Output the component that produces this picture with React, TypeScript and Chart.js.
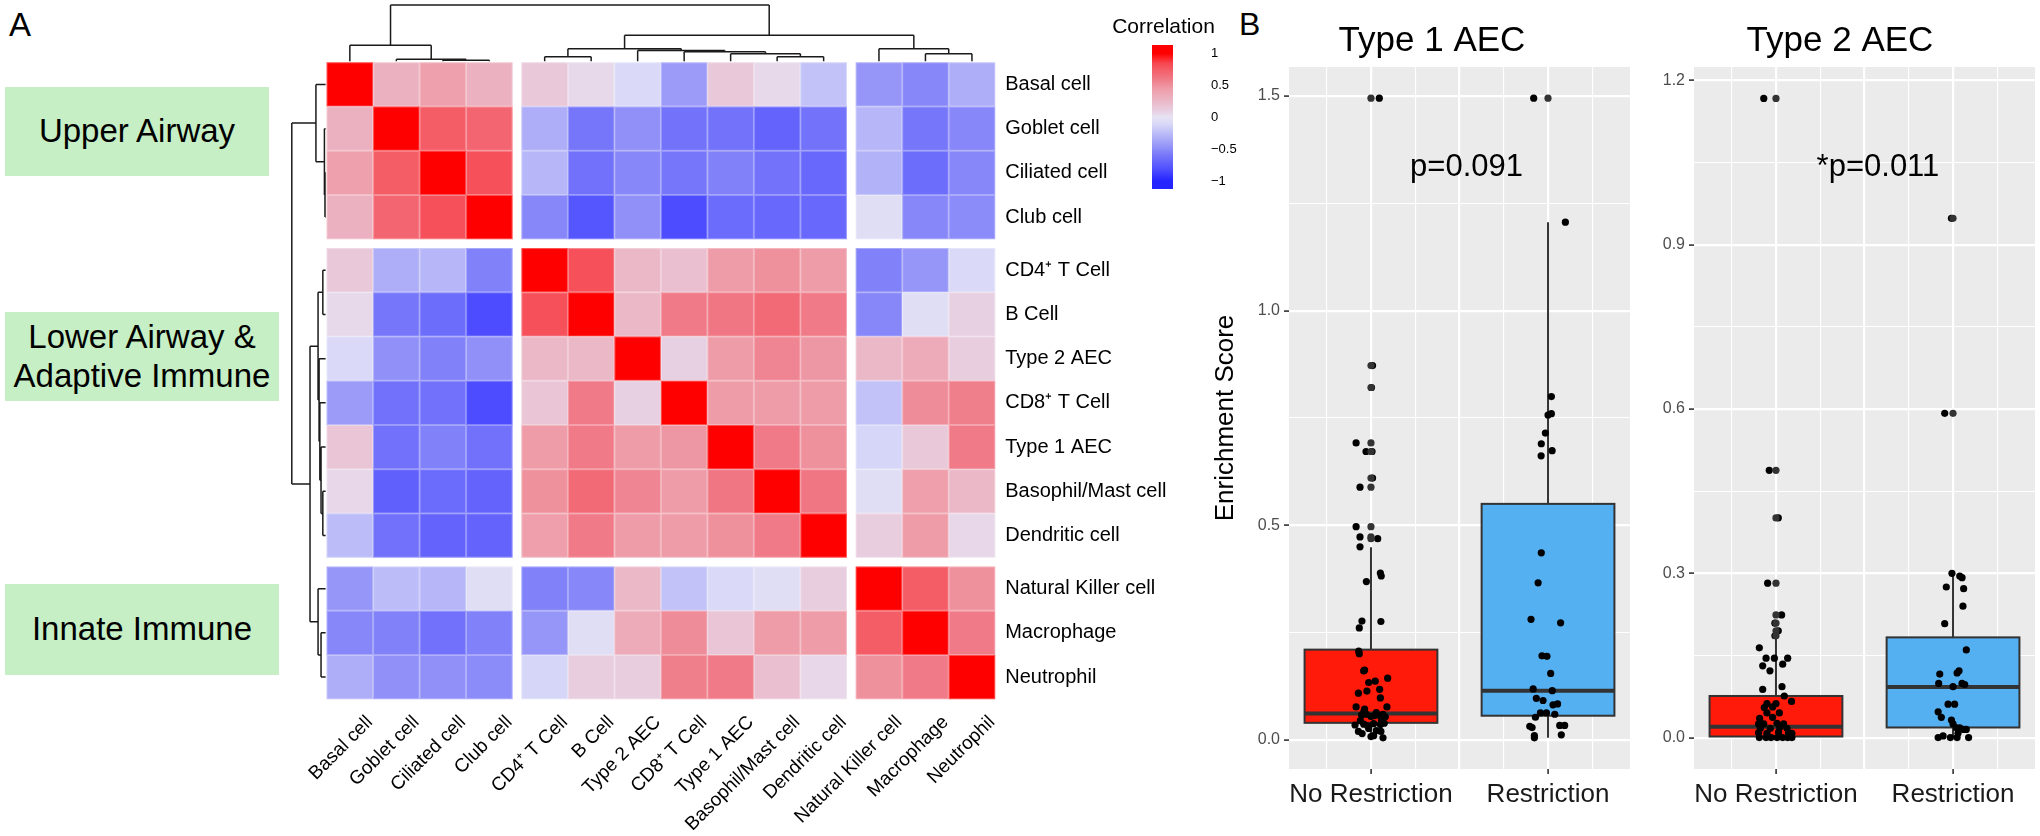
import React, { useEffect, useRef } from "react";
import { Chart, registerables } from "chart.js";

Chart.register(...registerables);

const FONT = '"Liberation Sans", Arial, Helvetica, sans-serif';
Chart.defaults.font.family = FONT;

// ---------------- Panel A data ----------------
const CELL_TYPES = [
  "Basal cell", "Goblet cell", "Ciliated cell", "Club cell",
  "CD4\u207A T Cell", "B Cell", "Type 2 AEC", "CD8\u207A T Cell", "Type 1 AEC",
  "Basophil/Mast cell", "Dendritic cell",
  "Natural Killer cell", "Macrophage", "Neutrophil",
];
const CELL_BLOCK = [0, 0, 0, 0, 1, 1, 1, 1, 1, 1, 1, 2, 2, 2];

const CORRELATION = [
  [1, 0.3, 0.42, 0.3, 0.15, 0.05, -0.1, -0.42, 0.15, 0.05, -0.22, -0.45, -0.52, -0.32],
  [0.3, 1, 0.75, 0.7, -0.32, -0.6, -0.48, -0.62, -0.62, -0.7, -0.62, -0.28, -0.6, -0.52],
  [0.42, 0.75, 1, 0.8, -0.28, -0.63, -0.52, -0.6, -0.55, -0.62, -0.68, -0.3, -0.65, -0.52],
  [0.3, 0.7, 0.8, 1, -0.52, -0.78, -0.48, -0.82, -0.66, -0.68, -0.68, -0.05, -0.52, -0.5],
  [0.15, -0.32, -0.28, -0.55, 1, 0.8, 0.25, 0.2, 0.45, 0.5, 0.45, -0.55, -0.45, -0.1],
  [0.05, -0.6, -0.65, -0.82, 0.8, 1, 0.25, 0.6, 0.62, 0.68, 0.6, -0.52, -0.05, 0.1],
  [-0.1, -0.48, -0.55, -0.48, 0.25, 0.25, 1, 0.1, 0.45, 0.55, 0.47, 0.25, 0.35, 0.12],
  [-0.42, -0.63, -0.63, -0.82, 0.17, 0.6, 0.1, 1, 0.45, 0.45, 0.45, -0.22, 0.52, 0.58],
  [0.17, -0.63, -0.55, -0.63, 0.45, 0.6, 0.45, 0.47, 1, 0.6, 0.5, -0.12, 0.15, 0.6],
  [0.06, -0.72, -0.66, -0.7, 0.5, 0.68, 0.55, 0.45, 0.62, 1, 0.62, -0.05, 0.43, 0.25],
  [-0.25, -0.63, -0.7, -0.7, 0.43, 0.6, 0.45, 0.45, 0.5, 0.6, 1, 0.12, 0.45, 0.06],
  [-0.45, -0.25, -0.28, -0.05, -0.55, -0.52, 0.25, -0.22, -0.1, -0.05, 0.12, 1, 0.75, 0.5],
  [-0.52, -0.55, -0.63, -0.55, -0.45, -0.05, 0.35, 0.52, 0.17, 0.45, 0.45, 0.75, 1, 0.6],
  [-0.32, -0.48, -0.48, -0.5, -0.12, 0.12, 0.12, 0.58, 0.6, 0.2, 0.06, 0.5, 0.6, 1],
];

// hclust-style merges: negative = leaf (1-based), positive = earlier merge; third = relative height
const TREE_MERGES: [number, number, number][] = [
  [-3, -4, 0.018],
  [-2, 1, 0.035],
  [-1, 2, 0.286],
  [-5, -6, 0.082],
  [-10, -11, 0.082],
  [-9, 5, 0.135],
  [-8, 6, 0.17],
  [-7, 7, 0.193],
  [4, 8, 0.223],
  [-13, -14, 0.135],
  [-12, 10, 0.223],
  [9, 11, 0.461],
  [3, 12, 1.0],
];

const LEGEND_TICKS = [1, 0.5, 0, -0.5, -1];
const GROUP_LABELS = [["Upper Airway"], ["Lower Airway &", "Adaptive Immune"], ["Innate Immune"]];

const COLOR_STOPS: [number, number[]][] = [
  [-1, [36, 36, 255]],
  [-0.8, [82, 82, 255]],
  [-0.6, [118, 118, 250]],
  [-0.45, [150, 150, 248]],
  [-0.3, [178, 178, 248]],
  [-0.1, [218, 218, 248]],
  [0, [230, 226, 242]],
  [0.1, [231, 208, 226]],
  [0.25, [235, 184, 200]],
  [0.45, [238, 156, 168]],
  [0.6, [240, 122, 136]],
  [0.75, [244, 92, 102]],
  [0.85, [247, 70, 80]],
  [1, [255, 0, 0]],
];

// ---------------- Panel B data ----------------
const GROUPS = ["No Restriction", "Restriction"];
const BOX_FILLS = ["#ff1a0a", "#55b0f2"];
const X_MAJOR = [1, 1.5, 2];
const X_MINOR = [0.75, 1.25, 1.75, 2.25];
const X_RANGE = [0.537, 2.463];

const T1_Y_MAJOR = [0, 0.5, 1.0, 1.5];
const T1_Y_MINOR = [0.25, 0.75, 1.25];
const T1_Y_RANGE = [-0.0675, 1.5675];
// [lower whisker, q1, median, q3, upper whisker]
const T1_BOX_STATS = [
  [0.004, 0.04, 0.0615, 0.2105, 0.449],
  [0.005, 0.0566, 0.115, 0.55, 1.206],
];
const T1_OUTLIERS = [
  [1.495, 0.872, 0.821, 0.692, 0.672, 0.61, 0.589, 0.497, 0.473, 0.469],
  [1.495],
];
// [jitter offset, value]
const T1_NO_RESTRICTION: [number, number][] = [
  [0.047, 1.495], [0.009, 0.872], [0.003, 0.821], [-0.084, 0.692], [-0.028, 0.672], [0.006, 0.672],
  [0.009, 0.61], [-0.062, 0.589], [-0.084, 0.497], [-0.062, 0.473], [0.038, 0.469],
  [-0.062, 0.45], [-0.026, 0.369], [0.053, 0.389], [0.058, 0.382], [-0.051, 0.277], [-0.066, 0.261],
  [0.056, 0.276], [-0.069, 0.207], [-0.066, 0.201], [-0.041, 0.161], [-0.036, 0.163], [-0.013, 0.134],
  [0.024, 0.137], [0.094, 0.144], [-0.071, 0.109], [-0.023, 0.114], [0.049, 0.118], [0.053, 0.098],
  [-0.084, 0.077], [-0.036, 0.072], [0.09, 0.077],
  [-0.053, 0.058], [-0.026, 0.06], [0, 0.055], [0.019, 0.057], [0.043, 0.058], [0.068, 0.06],
  [0.081, 0.054], [-0.04, 0.066], [0.03, 0.064],
  [-0.09, 0.035], [-0.041, 0.037], [-0.019, 0.033], [0.015, 0.038], [0.053, 0.036], [0.075, 0.039],
  [-0.06, 0.045], [0.06, 0.046],
  [-0.071, 0.02], [-0.013, 0.027], [0.015, 0.01], [0.068, 0.005], [0.056, 0.02], [0.0, 0.008],
  [-0.05, 0.015], [0.03, 0.022],
];
const T1_RESTRICTION: [number, number][] = [
  [-0.081, 1.495], [0.098, 1.206], [0.019, 0.8], [0.0, 0.757], [0.019, 0.76], [-0.015, 0.715],
  [-0.038, 0.69], [0.023, 0.674], [-0.039, 0.662], [-0.038, 0.436], [-0.056, 0.366], [-0.096, 0.281],
  [0.071, 0.273], [-0.034, 0.196], [-0.006, 0.195], [0.015, 0.155], [-0.084, 0.119], [0.024, 0.115],
  [-0.066, 0.097], [-0.028, 0.092], [0.028, 0.082], [0.054, 0.084], [-0.043, 0.063], [-0.009, 0.063],
  [0.038, 0.06], [-0.071, 0.053], [-0.103, 0.032], [-0.09, 0.029], [0.066, 0.034], [0.094, 0.034],
  [-0.077, 0.01], [-0.077, 0.005], [0.075, 0.012],
];

const T2_Y_MAJOR = [0, 0.3, 0.6, 0.9, 1.2];
const T2_Y_MINOR = [0.15, 0.45, 0.75, 1.05];
const T2_Y_RANGE = [-0.0573, 1.2243];
const T2_BOX_STATS = [
  [0, 0.002, 0.02, 0.076, 0.183],
  [0, 0.0185, 0.0925, 0.183, 0.3],
];
const T2_OUTLIERS = [
  [1.167, 0.488, 0.401, 0.282, 0.224, 0.209, 0.195, 0.186],
  [0.948, 0.592],
];
const T2_NO_RESTRICTION: [number, number][] = [
  [-0.069, 1.167], [-0.038, 0.488], [0.013, 0.401], [-0.047, 0.282], [0.032, 0.224], [-0.006, 0.209],
  [0.013, 0.195], [-0.006, 0.186],
  [-0.094, 0.164], [-0.056, 0.145], [-0.009, 0.145], [0.066, 0.145], [-0.075, 0.131], [0.038, 0.134],
  [-0.034, 0.122], [0.034, 0.093], [-0.075, 0.088], [0.047, 0.076], [0.088, 0.066], [-0.051, 0.062],
  [0, 0.062], [-0.066, 0.055], [-0.019, 0.056], [-0.051, 0.045], [0.019, 0.045], [-0.092, 0.035],
  [-0.019, 0.037],
  [-0.098, 0.025], [-0.069, 0.025], [0.006, 0.026], [0.043, 0.025], [-0.088, 0.017], [-0.032, 0.017],
  [0.021, 0.019], [0.062, 0.017], [-0.098, 0.009], [-0.051, 0.008], [0.015, 0.01], [0.071, 0.009],
  [0.09, 0.008], [-0.094, 0], [-0.056, 0], [-0.028, 0], [0.006, 0], [0.038, 0], [0.066, 0], [0.09, 0],
];
const T2_RESTRICTION: [number, number][] = [
  [-0.009, 0.948], [-0.047, 0.592], [-0.006, 0.3], [0.038, 0.295], [0.051, 0.292], [-0.038, 0.275],
  [0.06, 0.272], [0.056, 0.24], [-0.047, 0.208], [0.075, 0.16], [-0.075, 0.116], [0.023, 0.118],
  [0.034, 0.122], [-0.081, 0.099], [0, 0.093], [0.051, 0.099], [0.066, 0.097], [-0.028, 0.061],
  [0.009, 0.061], [-0.084, 0.047], [-0.066, 0.037], [-0.009, 0.032], [0, 0.025], [0.019, 0.018],
  [0.038, 0.018], [0.06, 0.015], [0.075, 0.015], [-0.084, 0], [-0.056, 0.003], [-0.015, 0],
  [0.023, 0], [0.088, 0], [0.028, 0.008],
];

// ---------------- helpers ----------------
const GAP_X = 0.19;
const GAP_Y = 0.2;
const posOf = (i: number, gap: number) => i + 0.5 + gap * CELL_BLOCK[i];

function corrColor(v: number): string {
  const x = Math.max(-1, Math.min(1, v));
  for (let i = 0; i < COLOR_STOPS.length - 1; i++) {
    const [a, ca] = COLOR_STOPS[i];
    const [b, cb] = COLOR_STOPS[i + 1];
    if (x <= b) {
      const t = (x - a) / (b - a);
      const c = ca.map((q, k) => Math.round(q + (cb[k] - q) * t));
      return `rgb(${c[0]},${c[1]},${c[2]})`;
    }
  }
  return "rgb(255,0,0)";
}

function drawTree(ctx: CanvasRenderingContext2D, leaf: number[], hp: (h: number) => number, rowTree: boolean) {
  const pos: number[] = [];
  const hgt: number[] = [];
  const get = (id: number): [number, number] => (id < 0 ? [leaf[-id - 1], 0] : [pos[id - 1], hgt[id - 1]]);
  const seg = (p1: number, h1: number, p2: number, h2: number) => {
    if (rowTree) {
      ctx.moveTo(hp(h1), p1);
      ctx.lineTo(hp(h2), p2);
    } else {
      ctx.moveTo(p1, hp(h1));
      ctx.lineTo(p2, hp(h2));
    }
  };
  ctx.beginPath();
  TREE_MERGES.forEach(([a, b, h], k) => {
    const [pa, ha] = get(a);
    const [pb, hb] = get(b);
    seg(pa, ha, pa, h);
    seg(pa, h, pb, h);
    seg(pb, h, pb, hb);
    pos[k] = (pa + pb) / 2;
    hgt[k] = h;
  });
  ctx.strokeStyle = "#1a1a1a";
  ctx.lineWidth = 1.5;
  ctx.stroke();
}

const heatmapPlugin = {
  id: "heatmapCells",
  beforeDatasetsDraw(chart: any) {
    const { ctx, chartArea } = chart;
    const xs = chart.scales.x;
    const ys = chart.scales.y;
    const cw = Math.abs(xs.getPixelForValue(1) - xs.getPixelForValue(0));
    const ch = Math.abs(ys.getPixelForValue(1) - ys.getPixelForValue(0));
    ctx.save();
    CORRELATION.forEach((row, r) =>
      row.forEach((v, c) => {
        const cx = xs.getPixelForValue(posOf(c, GAP_X));
        const cy = ys.getPixelForValue(posOf(r, GAP_Y));
        ctx.fillStyle = corrColor(v);
        ctx.fillRect(cx - cw / 2, cy - ch / 2, cw, ch);
        ctx.strokeStyle = "rgba(255,255,255,0.3)";
        ctx.lineWidth = 1;
        ctx.strokeRect(cx - cw / 2 + 0.5, cy - ch / 2 + 0.5, cw - 1, ch - 1);
      })
    );
    const colLeaf = CELL_TYPES.map((_, i) => xs.getPixelForValue(posOf(i, GAP_X)));
    const rowLeaf = CELL_TYPES.map((_, i) => ys.getPixelForValue(posOf(i, GAP_Y)));
    const top = chartArea.top - 1;
    const left = chartArea.left - 1;
    drawTree(ctx, colLeaf, (h) => top - h * 56.3, false);
    drawTree(ctx, rowLeaf, (h) => left - h * 33.8, true);

    // colour legend
    ctx.fillStyle = "#000";
    ctx.font = `21px ${FONT}`;
    ctx.textAlign = "center";
    ctx.textBaseline = "alphabetic";
    ctx.fillText("Correlation", 1163.5, 33);
    const mid = 117.3;
    const unit = 63.7;
    for (let y = 45; y < 189; y++) {
      ctx.fillStyle = corrColor((mid - (y + 0.5)) / unit);
      ctx.fillRect(1152, y, 21, 1);
    }
    ctx.fillStyle = "#000";
    ctx.font = `13px ${FONT}`;
    ctx.textAlign = "left";
    ctx.textBaseline = "middle";
    LEGEND_TICKS.forEach((v) => {
      ctx.fillText(v < 0 ? "\u2212" + Math.abs(v) : String(v), 1211, mid - v * unit);
    });
    ctx.restore();
  },
};

function makeHeatmap(canvas: HTMLCanvasElement) {
  const xMax = 14 + 2 * GAP_X;
  const yMax = 14 + 2 * GAP_Y;
  return new Chart(canvas, {
    type: "scatter",
    data: { datasets: [{ data: [] }] },
    options: {
      responsive: false,
      animation: false,
      events: [],
      layout: { padding: { left: 326.6, top: 62.3, right: 0, bottom: 0 } },
      plugins: { legend: { display: false }, tooltip: { enabled: false } },
      scales: {
        x: {
          type: "linear",
          position: "bottom",
          min: 0,
          max: xMax,
          grid: { display: false, drawTicks: false },
          border: { display: false },
          afterBuildTicks: (s: any) => {
            s.ticks = CELL_TYPES.map((_, i) => ({ value: posOf(i, GAP_X) }));
          },
          afterFit: (s: any) => {
            s.height = 836 - 699.2;
          },
          ticks: {
            autoSkip: false,
            minRotation: 45,
            maxRotation: 45,
            padding: 12,
            labelOffset: 20,
            color: "#000",
            font: { family: FONT, size: 19 },
            callback: (_v: any, i: number) => CELL_TYPES[i],
          },
        },
        y: {
          type: "linear",
          position: "right",
          reverse: true,
          min: 0,
          max: yMax,
          grid: { display: false, drawTicks: false },
          border: { display: false },
          afterBuildTicks: (s: any) => {
            s.ticks = CELL_TYPES.map((_, i) => ({ value: posOf(i, GAP_Y) }));
          },
          afterFit: (s: any) => {
            s.width = 1280 - 995.2;
          },
          ticks: {
            autoSkip: false,
            padding: 10,
            color: "#000",
            font: { family: FONT, size: 20 },
            callback: (_v: any, i: number) => CELL_TYPES[i],
          },
        },
      },
    } as any,
    plugins: [heatmapPlugin],
  });
}

interface BoxSpec {
  title: string;
  titleX: number;
  canvasLeft: number;
  yAxisWidth: number;
  padRight: number;
  yRange: number[];
  yMajor: number[];
  yMinor: number[];
  stats: number[][];
  outliers: number[][];
  jitter: [number, number][][];
  note: string;
  noteX: number;
  noteY: number;
  yTitle?: string;
}

function makeBoxChart(canvas: HTMLCanvasElement, spec: BoxSpec) {
  const plugin = {
    id: "boxes",
    beforeDraw(chart: any) {
      const { ctx, chartArea: a } = chart;
      ctx.save();
      ctx.fillStyle = "#ebebeb";
      ctx.fillRect(a.left, a.top, a.right - a.left, a.bottom - a.top);
      ctx.restore();
    },
    beforeDatasetsDraw(chart: any) {
      const { ctx } = chart;
      const xs = chart.scales.x;
      const ys = chart.scales.y;
      const halfW = xs.getPixelForValue(1 + 0.375) - xs.getPixelForValue(1);
      ctx.save();
      spec.stats.forEach(([lo, q1, med, q3, hi], g) => {
        const cx = xs.getPixelForValue(g + 1);
        ctx.strokeStyle = "#333333";
        ctx.lineWidth = 2;
        ctx.beginPath();
        ctx.moveTo(cx, ys.getPixelForValue(hi));
        ctx.lineTo(cx, ys.getPixelForValue(q3));
        ctx.moveTo(cx, ys.getPixelForValue(q1));
        ctx.lineTo(cx, ys.getPixelForValue(lo));
        ctx.stroke();
        const yt = ys.getPixelForValue(q3);
        const yb = ys.getPixelForValue(q1);
        ctx.fillStyle = BOX_FILLS[g];
        ctx.fillRect(cx - halfW, yt, 2 * halfW, yb - yt);
        ctx.strokeRect(cx - halfW, yt, 2 * halfW, yb - yt);
        ctx.lineWidth = 4;
        ctx.beginPath();
        const ym = ys.getPixelForValue(med);
        ctx.moveTo(cx - halfW, ym);
        ctx.lineTo(cx + halfW, ym);
        ctx.stroke();
      });
      ctx.restore();
    },
    afterDatasetsDraw(chart: any) {
      const { ctx } = chart;
      const xs = chart.scales.x;
      const ys = chart.scales.y;
      ctx.save();
      ctx.fillStyle = "#000";
      ctx.font = `31px ${FONT}`;
      ctx.textAlign = "center";
      ctx.textBaseline = "alphabetic";
      ctx.fillText(spec.note, xs.getPixelForValue(spec.noteX), ys.getPixelForValue(spec.noteY));
      ctx.font = `35px ${FONT}`;
      ctx.textBaseline = "middle";
      ctx.fillText(spec.title, spec.titleX - spec.canvasLeft, 41);
      ctx.restore();
    },
  };
  const isMajorX = (c: any) => !!c.tick && X_MAJOR.includes(c.tick.value);
  const isCatX = (c: any) => !!c.tick && (c.tick.value === 1 || c.tick.value === 2);
  const isMajorY = (c: any) => !!c.tick && spec.yMajor.includes(c.tick.value);
  return new Chart(canvas, {
    type: "scatter",
    data: {
      datasets: [
        {
          data: spec.outliers.flatMap((arr, g) => arr.map((v) => ({ x: g + 1, y: v }))),
          backgroundColor: "#333333",
          borderWidth: 0,
          pointRadius: 3.6,
          pointHoverRadius: 3.6,
        },
        {
          data: spec.jitter.flatMap((arr, g) => arr.map(([dx, v]) => ({ x: g + 1 + dx, y: v }))),
          backgroundColor: "#000000",
          borderWidth: 0,
          pointRadius: 3.6,
          pointHoverRadius: 3.6,
        },
      ],
    },
    options: {
      responsive: false,
      animation: false,
      events: [],
      layout: { padding: { left: 0, right: spec.padRight, top: 67, bottom: 0 } },
      plugins: { legend: { display: false }, tooltip: { enabled: false }, title: { display: false } },
      scales: {
        x: {
          type: "linear",
          min: X_RANGE[0],
          max: X_RANGE[1],
          afterBuildTicks: (s: any) => {
            s.ticks = [...X_MINOR, ...X_MAJOR].sort((a, b) => a - b).map((v) => ({ value: v }));
          },
          afterFit: (s: any) => {
            s.height = 67;
          },
          grid: {
            color: "#ffffff",
            lineWidth: (c: any) => (isMajorX(c) ? 2.2 : 1.1),
            tickColor: (c: any) => (isCatX(c) ? "#333333" : "rgba(0,0,0,0)"),
            tickLength: 5,
            tickWidth: 1.6,
          },
          border: { display: false },
          ticks: {
            autoSkip: false,
            minRotation: 0,
            maxRotation: 0,
            padding: 5,
            color: "#1a1a1a",
            font: { family: FONT, size: 26 },
            callback: (v: any) => (v === 1 ? GROUPS[0] : v === 2 ? GROUPS[1] : ""),
          },
        },
        y: {
          type: "linear",
          min: spec.yRange[0],
          max: spec.yRange[1],
          afterBuildTicks: (s: any) => {
            s.ticks = [...spec.yMajor, ...spec.yMinor].sort((a, b) => a - b).map((v) => ({ value: v }));
          },
          afterFit: (s: any) => {
            s.width = spec.yAxisWidth;
          },
          grid: {
            color: "#ffffff",
            lineWidth: (c: any) => (isMajorY(c) ? 2.2 : 1.1),
            tickColor: (c: any) => (isMajorY(c) ? "#333333" : "rgba(0,0,0,0)"),
            tickLength: 5,
            tickWidth: 1.6,
          },
          border: { display: false },
          ticks: {
            autoSkip: false,
            padding: 4,
            color: "#4d4d4d",
            font: { family: FONT, size: 16 },
            callback: (v: any) => (spec.yMajor.includes(v) ? Number(v).toFixed(1) : ""),
          },
          title: spec.yTitle
            ? {
                display: true,
                text: spec.yTitle,
                color: "#000",
                font: { family: FONT, size: 26 },
                padding: { top: 0, bottom: 0 },
              }
            : { display: false },
        },
      },
    } as any,
    plugins: [plugin],
  });
}

const T1_SPEC: BoxSpec = {
  title: "Type 1 AEC",
  titleX: 1432,
  canvasLeft: 1210,
  yAxisWidth: 79,
  padRight: 20,
  yRange: T1_Y_RANGE,
  yMajor: T1_Y_MAJOR,
  yMinor: T1_Y_MINOR,
  stats: T1_BOX_STATS,
  outliers: T1_OUTLIERS,
  jitter: [T1_NO_RESTRICTION, T1_RESTRICTION],
  note: "p=0.091",
  noteX: 1.54,
  noteY: 1.313,
  yTitle: "Enrichment Score",
};

const T2_SPEC: BoxSpec = {
  title: "Type 2 AEC",
  titleX: 1840,
  canvasLeft: 1640,
  yAxisWidth: 54,
  padRight: 5,
  yRange: T2_Y_RANGE,
  yMajor: T2_Y_MAJOR,
  yMinor: T2_Y_MINOR,
  stats: T2_BOX_STATS,
  outliers: T2_OUTLIERS,
  jitter: [T2_NO_RESTRICTION, T2_RESTRICTION],
  note: "*p=0.011",
  noteX: 1.576,
  noteY: 1.025,
};

const GROUP_BOXES = [
  { left: 5, top: 87, width: 264, height: 89 },
  { left: 5, top: 312, width: 274, height: 89 },
  { left: 5, top: 584, width: 274, height: 91 },
];

export default function App() {
  const heatRef = useRef<HTMLCanvasElement>(null);
  const t1Ref = useRef<HTMLCanvasElement>(null);
  const t2Ref = useRef<HTMLCanvasElement>(null);

  useEffect(() => {
    const charts = [
      makeHeatmap(heatRef.current as HTMLCanvasElement),
      makeBoxChart(t1Ref.current as HTMLCanvasElement, T1_SPEC),
      makeBoxChart(t2Ref.current as HTMLCanvasElement, T2_SPEC),
    ];
    return () => charts.forEach((c) => c.destroy());
  }, []);

  return (
    <div
      style={{
        position: "fixed",
        left: 0,
        top: 0,
        width: 2040,
        height: 836,
        background: "#ffffff",
        overflow: "hidden",
        fontFamily: FONT,
        color: "#000",
      }}
    >
      <div style={{ position: "absolute", left: 9, top: 8, fontSize: 33, lineHeight: 1 }}>A</div>
      <div style={{ position: "absolute", left: 1239, top: 8, fontSize: 32, lineHeight: 1 }}>B</div>
      {GROUP_LABELS.map((lines, i) => (
        <div
          key={i}
          style={{
            position: "absolute",
            left: GROUP_BOXES[i].left,
            top: GROUP_BOXES[i].top,
            width: GROUP_BOXES[i].width,
            height: GROUP_BOXES[i].height,
            background: "#c6efc5",
            display: "flex",
            flexDirection: "column",
            alignItems: "center",
            justifyContent: "center",
            fontSize: 33,
            lineHeight: 1.18,
            textAlign: "center",
            whiteSpace: "nowrap",
          }}
        >
          {lines.map((l, k) => (
            <div key={k}>{l}</div>
          ))}
        </div>
      ))}
      <canvas ref={heatRef} width={1280} height={836} style={{ position: "absolute", left: 0, top: 0 }} />
      <canvas ref={t1Ref} width={440} height={836} style={{ position: "absolute", left: 1210, top: 0 }} />
      <canvas ref={t2Ref} width={400} height={836} style={{ position: "absolute", left: 1640, top: 0 }} />
    </div>
  );
}
